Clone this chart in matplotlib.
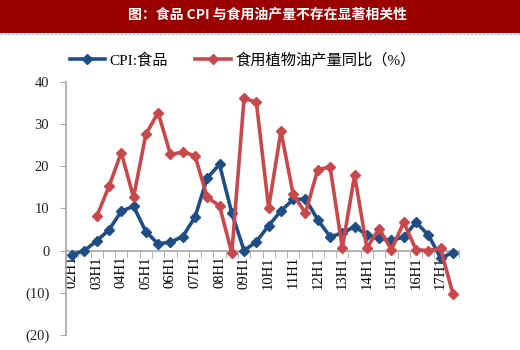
import numpy as np
import matplotlib
matplotlib.use("Agg")
import matplotlib.pyplot as plt
from matplotlib.patches import Rectangle
from matplotlib.lines import Line2D
from matplotlib.ticker import FuncFormatter, FixedLocator

################################################################################
# Data
################################################################################
periods = [f"{y:02d}H{h}" for y in range(2, 18) for h in (1, 2)]

cpi_food = [-1.0, 0.0, 2.3, 4.9, 9.3, 10.5, 4.5, 1.6, 2.0, 3.3,
            7.9, 17.2, 20.4, 8.9, 0.0, 2.1, 5.9, 9.4, 12.1, 12.2,
            7.3, 3.3, 4.1, 5.7, 3.7, 2.9, 2.4, 3.2, 6.7, 3.7,
            -1.7, -0.5]

# starts at 03H1
oil_output = [8.1, 15.2, 23.2, 12.6, 27.5, 32.7, 22.8, 23.3, 22.5, 12.6,
              10.6, -0.6, 36.1, 35.1, 10.1, 28.3, 13.3, 8.9, 19.2, 19.8,
              0.6, 17.9, 0.6, 5.2, 0.2, 6.7, 0.2, 0.0, 0.5, -10.2]

title_text  = "图：食品 CPI 与食用油产量不存在显著相关性"
label_cpi   = "CPI:食品"
label_oil   = "食用植物油产量同比（%）"

################################################################################
# Styling
################################################################################
BLUE    = "#1F4E86"
RED     = "#C8494B"
GRID    = "#A6A6A6"
BAR_RED = "#9A0000"
FONTS   = ["Liberation Serif", "Noto Sans CJK SC", "DejaVu Sans"]

plt.rcParams["font.family"] = FONTS

fig = plt.figure(figsize=(5.2, 3.5), dpi=100)

########################################
# Title bar
########################################
fig.add_artist(Rectangle((0, 1 - 33 / 350), 1, 33 / 350, transform=fig.transFigure,
                         facecolor=BAR_RED, edgecolor="none"))
fig.add_artist(Line2D([0, 1], [1 - 34 / 350] * 2, transform=fig.transFigure,
                      color="#9DB7D8", lw=0.8, ls=(0, (2, 1.5))))
fig.text(268 / 520, 1 - 15 / 350, title_text, color="white", fontsize=10,
         fontweight="bold", ha="center", va="center",
         family=["Noto Sans CJK SC", "DejaVu Sans"])

########################################
# Axes
########################################
ax = fig.add_axes([66 / 520, 15 / 350, (459 - 66) / 520, (335 - 81.7) / 350])

x_cpi = np.arange(len(cpi_food))
x_oil = np.arange(len(periods) - len(oil_output), len(periods))

ax.plot(x_cpi, cpi_food, color=BLUE, lw=2.6, marker="D", ms=5.5, label=label_cpi,
        zorder=3)
ax.plot(x_oil, oil_output, color=RED, lw=2.6, marker="D", ms=5.5, label=label_oil,
        zorder=3)

ax.set_xlim(-0.5, len(periods) - 0.5)
ax.set_ylim(-20, 40)
ax.set_yticks(range(-20, 41, 10))
ax.yaxis.set_major_formatter(FuncFormatter(
    lambda v, p: f"({abs(int(v))})" if v < 0 else f"{int(v)}"))

ax.spines["top"].set_visible(False)
ax.spines["right"].set_visible(False)
ax.spines["left"].set_color(GRID)
ax.spines["bottom"].set_color(GRID)
ax.spines["bottom"].set_position(("data", 0))
ax.spines["left"].set_linewidth(1.2)
ax.spines["bottom"].set_linewidth(1.2)

ax.set_xticks(x_cpi[::2])
ax.set_xticklabels(periods[::2], rotation=90, fontsize=10.5)
ax.xaxis.set_minor_locator(FixedLocator(np.arange(-0.5, len(periods), 1)))
ax.tick_params(axis="x", which="major", length=0, pad=4)
ax.tick_params(axis="x", which="minor", length=5, color=GRID, direction="out")
ax.tick_params(axis="y", length=4, color=GRID, labelsize=10.5, pad=8)
for t in ax.get_yticklabels():
    t.set_color("#222222")

########################################
# Legend
########################################
ax.legend(loc="center left", bbox_to_anchor=(56 / 520, 1 - 60 / 350),
          bbox_transform=fig.transFigure, ncol=2, frameon=False,
          fontsize=11, handlelength=2.3, columnspacing=1.8, handletextpad=0.3,
          markerscale=0.85)

fig.savefig("out.png", dpi=100)
